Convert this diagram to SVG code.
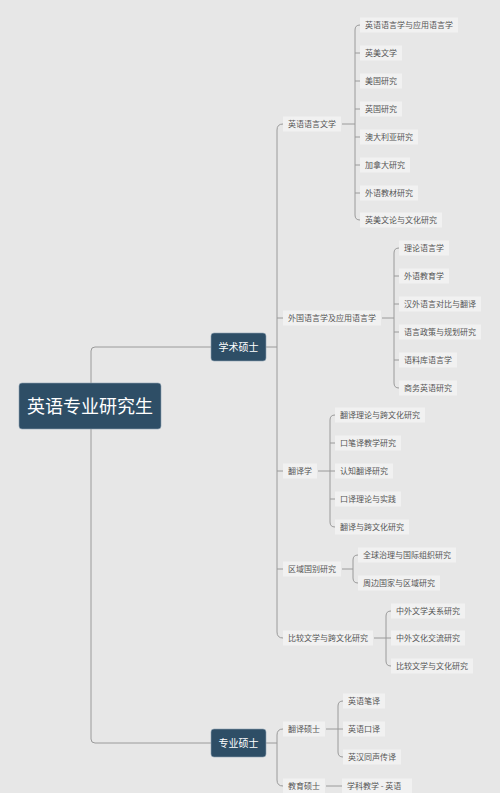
<svg xmlns="http://www.w3.org/2000/svg" width="500" height="793" viewBox="0 0 500 793">
<style>
text{font-family:"Noto Sans CJK SC","Liberation Sans",sans-serif;}
.bg{fill:#f1f1f1;}
.t{font-size:8px;fill:#555;}
.box{fill:#2e4e66;stroke:#8fa3b3;stroke-width:0.6;}
.bt{fill:#fff;text-anchor:middle;}
.c{fill:none;stroke:#9a9a9a;stroke-width:1;}
</style>
<rect width="500" height="793" fill="#e7e7e7"/>
<g id="connectors">
<path class="c" d="M211 347 H95 Q91 347 91 351 V739 Q91 743 95 743 H211"/>
<path class="c" d="M266 347 H277 M283 124 Q277 124 277 130 V632 Q277 638 283 638 M277 318 H283 M277 471 H283 M277 569 H283"/>
<path class="c" d="M266 743 H277 M283 729 Q277 729 277 735 V780 Q277 786 283 786"/>
<path class="c" d="M342 124 H355 M360 25 Q355 25 355 30 V215 Q355 220 360 220 M355 53 H360 M355 81 H360 M355 109 H360 M355 137 H360 M355 165 H360 M355 193 H360"/>
<path class="c" d="M382 318 H394 M399 248 Q394 248 394 253 V383 Q394 388 399 388 M394 276 H399 M394 304 H399 M394 332 H399 M394 360 H399"/>
<path class="c" d="M318 471 H330 M335 415 Q330 415 330 420 V522 Q330 527 335 527 M330 443 H335 M330 471 H335 M330 499 H335"/>
<path class="c" d="M342 569 H353 M358 555 Q353 555 353 560 V578 Q353 583 358 583"/>
<path class="c" d="M374 638 H386 M391 611 Q386 611 386 616 V661 Q386 666 391 666 M386 638 H391"/>
<path class="c" d="M326 729 H338 M343 701 Q338 701 338 706 V752 Q338 757 343 757 M338 729 H343"/>
<path class="c" d="M326 786 H342"/>
</g>
<g id="root"><rect class="box" x="19" y="383" width="142" height="46" rx="3"/><text class="bt" x="90" y="412.5" font-size="18">英语专业研究生</text></g>
<g id="xueshu"><rect class="box" x="211" y="333" width="55" height="28" rx="3"/><text class="bt" x="238.5" y="350.5" font-size="10">学术硕士</text></g>
<g id="zhuanye"><rect class="box" x="211" y="729" width="55" height="28" rx="3"/><text class="bt" x="238.5" y="746.5" font-size="10">专业硕士</text></g>

<g id="n-yyyywx"><rect class="bg" x="283" y="116.5" width="58" height="15"/><text class="t" x="288" y="127">英语语言文学</text></g>
<g id="n-wgyyx"><rect class="bg" x="283" y="310.5" width="98" height="15"/><text class="t" x="288" y="321">外国语言学及应用语言学</text></g>
<g id="n-fyx"><rect class="bg" x="283" y="463.5" width="34" height="15"/><text class="t" x="288" y="474">翻译学</text></g>
<g id="n-qygb"><rect class="bg" x="283" y="561.5" width="58" height="15"/><text class="t" x="288" y="572">区域国别研究</text></g>
<g id="n-bjwx"><rect class="bg" x="283" y="630.5" width="90" height="15"/><text class="t" x="288" y="641">比较文学与跨文化研究</text></g>
<g id="n-fyss"><rect class="bg" x="283" y="721.5" width="42" height="15"/><text class="t" x="288" y="732">翻译硕士</text></g>
<g id="n-jyss"><rect class="bg" x="283" y="778.5" width="42" height="15"/><text class="t" x="288" y="789">教育硕士</text></g>

<g id="l-a1"><rect class="bg" x="360" y="17.5" width="98" height="15"/><text class="t" x="365" y="28">英语语言学与应用语言学</text></g>
<g id="l-a2"><rect class="bg" x="360" y="45.5" width="42" height="15"/><text class="t" x="365" y="56">英美文学</text></g>
<g id="l-a3"><rect class="bg" x="360" y="73.5" width="42" height="15"/><text class="t" x="365" y="84">美国研究</text></g>
<g id="l-a4"><rect class="bg" x="360" y="101.5" width="42" height="15"/><text class="t" x="365" y="112">英国研究</text></g>
<g id="l-a5"><rect class="bg" x="360" y="129.5" width="58" height="15"/><text class="t" x="365" y="140">澳大利亚研究</text></g>
<g id="l-a6"><rect class="bg" x="360" y="157.5" width="50" height="15"/><text class="t" x="365" y="168">加拿大研究</text></g>
<g id="l-a7"><rect class="bg" x="360" y="185.5" width="58" height="15"/><text class="t" x="365" y="196">外语教材研究</text></g>
<g id="l-a8"><rect class="bg" x="360" y="212.5" width="82" height="15"/><text class="t" x="365" y="223">英美文论与文化研究</text></g>

<g id="l-b1"><rect class="bg" x="399" y="240.5" width="50" height="15"/><text class="t" x="404" y="251">理论语言学</text></g>
<g id="l-b2"><rect class="bg" x="399" y="268.5" width="50" height="15"/><text class="t" x="404" y="279">外语教育学</text></g>
<g id="l-b3"><rect class="bg" x="399" y="296.5" width="82" height="15"/><text class="t" x="404" y="307">汉外语言对比与翻译</text></g>
<g id="l-b4"><rect class="bg" x="399" y="324.5" width="82" height="15"/><text class="t" x="404" y="335">语言政策与规划研究</text></g>
<g id="l-b5"><rect class="bg" x="399" y="352.5" width="58" height="15"/><text class="t" x="404" y="363">语料库语言学</text></g>
<g id="l-b6"><rect class="bg" x="399" y="380.5" width="58" height="15"/><text class="t" x="404" y="391">商务英语研究</text></g>

<g id="l-c1"><rect class="bg" x="335" y="407.5" width="90" height="15"/><text class="t" x="340" y="418">翻译理论与跨文化研究</text></g>
<g id="l-c2"><rect class="bg" x="335" y="435.5" width="66" height="15"/><text class="t" x="340" y="446">口笔译教学研究</text></g>
<g id="l-c3"><rect class="bg" x="335" y="463.5" width="58" height="15"/><text class="t" x="340" y="474">认知翻译研究</text></g>
<g id="l-c4"><rect class="bg" x="335" y="491.5" width="66" height="15"/><text class="t" x="340" y="502">口译理论与实践</text></g>
<g id="l-c5"><rect class="bg" x="335" y="519.5" width="74" height="15"/><text class="t" x="340" y="530">翻译与跨文化研究</text></g>

<g id="l-d1"><rect class="bg" x="358" y="547.5" width="98" height="15"/><text class="t" x="363" y="558">全球治理与国际组织研究</text></g>
<g id="l-d2"><rect class="bg" x="358" y="575.5" width="82" height="15"/><text class="t" x="363" y="586">周边国家与区域研究</text></g>

<g id="l-e1"><rect class="bg" x="391" y="603.5" width="74" height="15"/><text class="t" x="396" y="614">中外文学关系研究</text></g>
<g id="l-e2"><rect class="bg" x="391" y="630.5" width="74" height="15"/><text class="t" x="396" y="641">中外文化交流研究</text></g>
<g id="l-e3"><rect class="bg" x="391" y="658.5" width="82" height="15"/><text class="t" x="396" y="669">比较文学与文化研究</text></g>

<g id="l-f1"><rect class="bg" x="343" y="693.5" width="42" height="15"/><text class="t" x="348" y="704">英语笔译</text></g>
<g id="l-f2"><rect class="bg" x="343" y="721.5" width="42" height="15"/><text class="t" x="348" y="732">英语口译</text></g>
<g id="l-f3"><rect class="bg" x="343" y="749.5" width="58" height="15"/><text class="t" x="348" y="760">英汉同声传译</text></g>
<g id="l-g1"><rect class="bg" x="342" y="778.5" width="70" height="15"/><text class="t" x="347" y="789">学科教学 - 英语</text></g>
</svg>
